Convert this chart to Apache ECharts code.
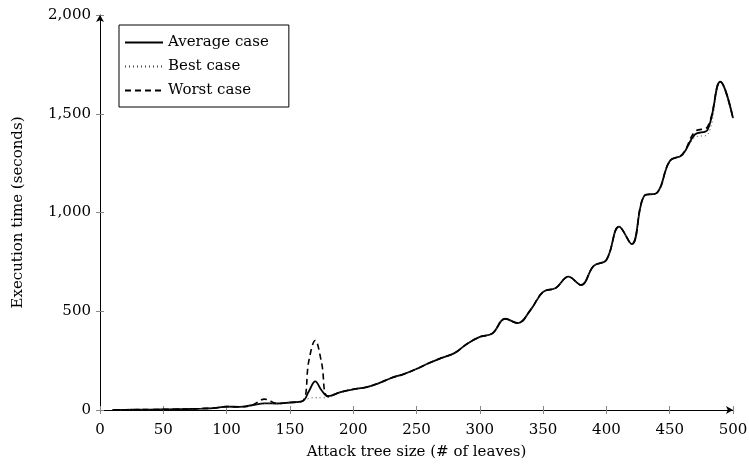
<!DOCTYPE html>
<html>
<head>
<meta charset="utf-8">
<script src="https://cdn.jsdelivr.net/npm/echarts@6/dist/echarts.min.js"></script>
<style>
  html, body { margin: 0; padding: 0; background: #fff; }
  #chart { width: 749px; height: 468px; }
</style>
</head>
<body>
<div id="chart"></div>
<script>
var myChart = echarts.init(document.getElementById('chart'));
var fontsty = 'DejaVu Serif';

// attack tree sizes (# of leaves)
var sizes = [10, 20, 30, 40, 50, 60, 70, 80, 90, 100,
  110, 120, 130, 140, 150, 160, 165, 170, 175, 180, 190, 200,
  210, 220, 230, 240, 250, 260, 270, 280, 290, 300,
  310, 320, 330, 340, 350, 360, 370, 380, 390, 400,
  410, 420, 430, 440, 450, 460, 470, 480, 490, 500];

// execution time (seconds)
var avgCase = [1, 1, 2, 2, 3, 4, 5, 7, 10, 17,
  16, 24, 34, 33, 38, 45, 95, 145, 100, 70, 90, 105,
  115, 135, 162, 182, 208, 238, 264, 288, 335, 370,
  388, 462, 440, 506, 598, 618, 675, 633, 730, 760,
  928, 840, 1085, 1100, 1260, 1292, 1395, 1420, 1662, 1478];
var bestCase = [1, 1, 2, 2, 3, 4, 5, 7, 10, 17,
  16, 24, 33, 33, 38, 45, 58, 62, 62, 63, 90, 105,
  115, 135, 162, 182, 208, 238, 264, 288, 335, 370,
  388, 462, 440, 506, 598, 618, 675, 633, 730, 760,
  928, 840, 1085, 1100, 1260, 1290, 1380, 1395, 1662, 1478];
var worstCase = [1, 1, 2, 2, 3, 4, 5, 7, 10, 17,
  16, 24, 55, 33, 38, 45, 250, 352, 240, 68, 90, 105,
  115, 135, 162, 182, 208, 238, 264, 288, 335, 370,
  388, 462, 440, 506, 598, 618, 675, 633, 730, 760,
  928, 840, 1085, 1100, 1260, 1295, 1410, 1435, 1662, 1478];

function pairs(ys) {
  var out = [];
  for (var i = 0; i < sizes.length; i++) {
    out.push([sizes[i], ys[i]]);
  }
  return out;
}

var labelStyle = { fontSize: 15, fontFamily: fontsty, color: '#000' };

var option = {
  animation: false,
  backgroundColor: '#fff',
  grid: { left: 100, right: 16, top: 15, bottom: 58, outerBoundsMode: 'none' },
  legend: {
    orient: 'vertical',
    left: 119,
    top: 25,
    padding: [10, 20, 9, 5],
    itemWidth: 38,
    itemHeight: 16,
    itemGap: 9,
    borderColor: '#000',
    borderWidth: 1,
    borderRadius: 0,
    backgroundColor: '#fff',
    itemStyle: { opacity: 0 },
    textStyle: { fontSize: 15, fontFamily: fontsty, color: '#000' },
    data: ['Average case', 'Best case', 'Worst case']
  },
  xAxis: [{
    type: 'value',
    min: 0,
    max: 500,
    interval: 50,
    name: 'Attack tree size (# of leaves)',
    nameLocation: 'middle',
    nameGap: 35,
    nameTextStyle: labelStyle,
    axisLine: { show: true, symbol: ['none', 'arrow'], symbolSize: [6, 7],
      lineStyle: { color: '#000', width: 1 } },
    axisTick: { show: true, length: 4, lineStyle: { color: '#888' } },
    axisLabel: { fontSize: 15, fontFamily: fontsty, color: '#000', margin: 13 },
    splitLine: { show: false }
  }, {
    type: 'value',
    min: 0,
    max: 500,
    interval: 50,
    position: 'bottom',
    axisLine: { show: false },
    axisTick: { show: true, inside: true, length: 4, lineStyle: { color: '#888' } },
    axisLabel: { show: false },
    splitLine: { show: false }
  }],
  yAxis: [{
    type: 'value',
    min: 0,
    max: 2000,
    interval: 500,
    name: 'Execution time (seconds)',
    nameLocation: 'middle',
    nameGap: 74,
    nameTextStyle: labelStyle,
    axisLine: { show: true, symbol: ['none', 'arrow'], symbolSize: [6, 7],
      lineStyle: { color: '#000', width: 1 } },
    axisTick: { show: true, length: 4, lineStyle: { color: '#888' } },
    axisLabel: {
      fontSize: 15, fontFamily: fontsty, color: '#000', margin: 9,
      formatter: function (v) { return v.toLocaleString('en-US'); }
    },
    splitLine: { show: false }
  }, {
    type: 'value',
    min: 0,
    max: 2000,
    interval: 500,
    position: 'left',
    axisLine: { show: false },
    axisTick: { show: true, inside: true, length: 4, lineStyle: { color: '#888' } },
    axisLabel: { show: false },
    splitLine: { show: false }
  }],
  series: [{
    name: 'Average case',
    type: 'line',
    smooth: 0.4,
    showSymbol: false,
    symbol: 'none',
    color: '#000',
    lineStyle: { color: '#000', width: 1.8, type: 'solid' },
    data: pairs(avgCase)
  }, {
    name: 'Best case',
    type: 'line',
    smooth: 0.4,
    showSymbol: false,
    symbol: 'none',
    color: '#000',
    lineStyle: { color: '#444', width: 1, type: [1, 3] },
    data: pairs(bestCase)
  }, {
    name: 'Worst case',
    type: 'line',
    smooth: 0.4,
    showSymbol: false,
    symbol: 'none',
    color: '#000',
    lineStyle: { color: '#000', width: 1.6, type: [6, 4] },
    data: pairs(worstCase)
  }]
};
myChart.setOption(option);
</script>
</body>
</html>
